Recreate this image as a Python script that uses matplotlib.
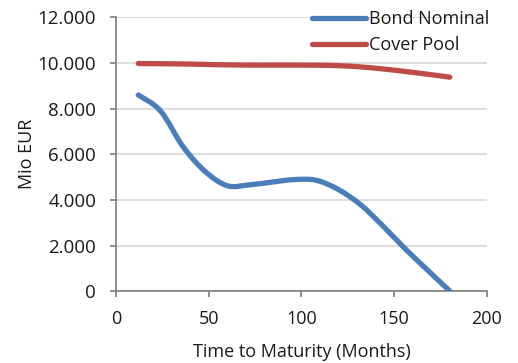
import matplotlib
matplotlib.use("Agg")
import matplotlib.pyplot as plt
from matplotlib.path import Path
from matplotlib.patches import PathPatch
from matplotlib.lines import Line2D
from matplotlib.ticker import FuncFormatter

plt.rcParams['font.family'] = ['Open Sans', 'DejaVu Sans']

months = [12, 24, 36, 48, 60, 72, 84, 96, 108, 120, 132, 144, 156, 168, 180]
bond_nominal = [8600, 7900, 6350, 5250, 4620, 4660, 4780, 4890, 4860, 4450,
                3780, 2850, 1850, 920, 0]
cover_pool = [9980, 9970, 9960, 9940, 9920, 9910, 9910, 9910, 9905, 9885,
              9830, 9740, 9630, 9510, 9380]

x_ticks = [0, 50, 100, 150, 200]
y_ticks = [0, 2000, 4000, 6000, 8000, 10000, 12000]

BLUE = '#4A7EBB'
RED = '#BE4B48'
TEXT = '#1A1A1A'
FS = 13


def smooth_path(xs, ys):
    """Bezier path through the points (Catmull-Rom style control points)."""
    pts = list(zip(xs, ys))
    n = len(pts)
    verts = [pts[0]]
    codes = [Path.MOVETO]
    for i in range(n - 1):
        p0 = pts[i - 1] if i > 0 else pts[i]
        p1 = pts[i]
        p2 = pts[i + 1]
        p3 = pts[i + 2] if i + 2 < n else pts[i + 1]
        c1 = (p1[0] + (p2[0] - p0[0]) / 6, p1[1] + (p2[1] - p0[1]) / 6)
        c2 = (p2[0] - (p3[0] - p1[0]) / 6, p2[1] - (p3[1] - p1[1]) / 6)
        verts += [c1, c2, p2]
        codes += [Path.CURVE4] * 3
    return Path(verts, codes)


fig = plt.figure(figsize=(5.18, 3.63), dpi=100)
ax = fig.add_axes([0.224, 0.198, 0.716, 0.754])

ax.set_xlim(0, 200)
ax.set_ylim(0, 12000)
ax.set_xticks(x_ticks)
ax.set_yticks(y_ticks)
ax.yaxis.set_major_formatter(FuncFormatter(lambda v, p: f"{int(v):,}".replace(',', '.')))

ax.grid(axis='y', color='#D9D9D9', linewidth=1.3, zorder=0)
ax.set_axisbelow(True)
for s in ('top', 'right'):
    ax.spines[s].set_visible(False)
for s in ('left', 'bottom'):
    ax.spines[s].set_color('#868686')
    ax.spines[s].set_linewidth(1.3)
ax.tick_params(axis='both', colors='#868686', length=4.3, width=1.3,
               labelcolor=TEXT, labelsize=FS)
ax.tick_params(axis='y', pad=10, labelsize=13.5)
ax.tick_params(axis='x', pad=9)

for vals, col in ((bond_nominal, BLUE), (cover_pool, RED)):
    patch = PathPatch(smooth_path(months, vals), facecolor='none', edgecolor=col,
                      linewidth=3.8, capstyle='round', joinstyle='round', zorder=3)
    ax.add_patch(patch)

ax.set_xlabel('Time to Maturity (Months)', fontsize=FS, color=TEXT, labelpad=11)
ax.set_ylabel('Mio EUR', fontsize=FS, color=TEXT, labelpad=1)

handles = [Line2D([], [], color=BLUE, linewidth=3.8, solid_capstyle='round'),
           Line2D([], [], color=RED, linewidth=3.8, solid_capstyle='round')]
leg = ax.legend(handles, ['Bond Nominal', 'Cover Pool'], loc='upper right',
                bbox_to_anchor=(1.025, 1.053), frameon=False, fontsize=FS,
                handlelength=3.0, handletextpad=0.15, labelspacing=0.45,
                borderaxespad=0)
for t in leg.get_texts():
    t.set_color(TEXT)

fig.savefig('out.png', dpi=100)
